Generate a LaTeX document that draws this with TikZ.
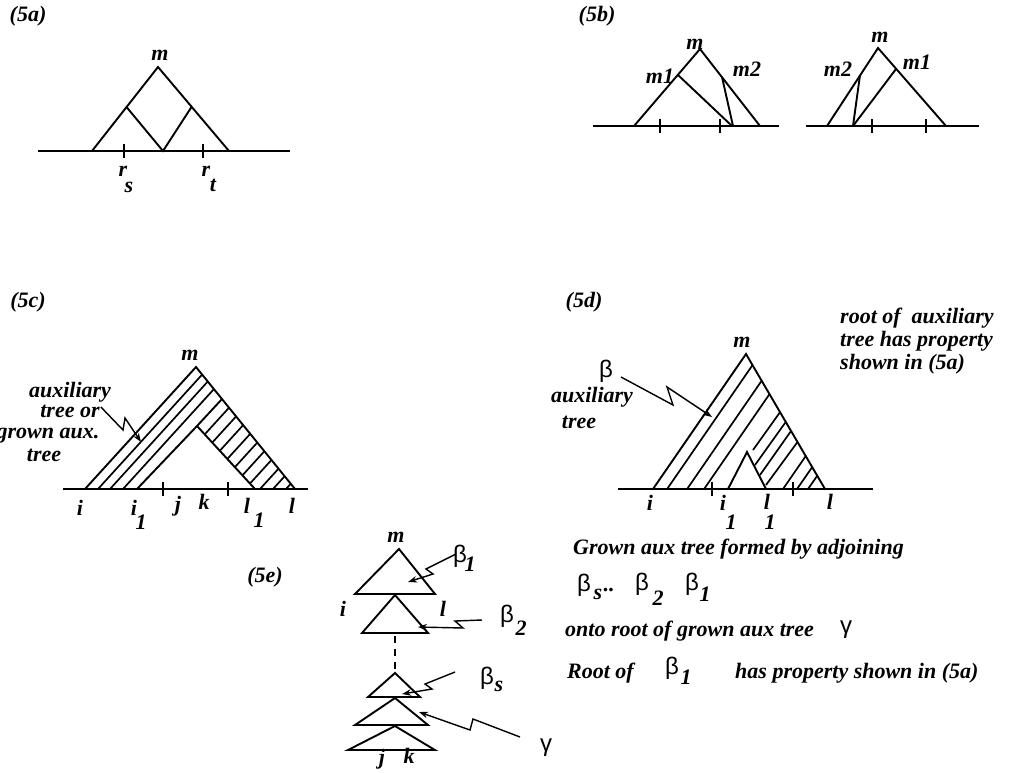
\documentclass[tikz,border=0pt]{standalone}
\usepackage{fontspec}
\setmainfont{Liberation Serif}
\newfontfamily\grk{Liberation Sans}
\usetikzlibrary{arrows.meta}
\begin{document}
\begin{tikzpicture}[x=1pt,y=-1pt,
  lab/.style={font=\fontsize{22}{24}\selectfont\bfseries\itshape, inner sep=0pt},
  gk/.style={font=\fontsize{24}{26}\selectfont\grk, inner sep=0pt},
  ln/.style={line width=1.9pt, line join=miter},
  hatch/.style={line width=1.7pt},
  tick/.style={line width=1.6pt},
  bolt/.style={line width=1.4pt, line join=miter, -{Stealth[length=9pt,width=6.5pt]}},
  dsh/.style={line width=1.7pt, dash pattern=on 7pt off 6pt},
]
\useasboundingbox (0,0) rectangle (1011,772);

% ---------------- (5a)
\node[lab] (t5a) at (28,16) {(5a)};
\coordinate (aM) at (158,67);
\coordinate (aL) at (92,151);
\coordinate (aR) at (229,151);
\coordinate (aP) at (126.5,107);
\coordinate (aQ) at (191.5,107);
\coordinate (aB) at (163,151);
\coordinate (aS) at (38,151);
\coordinate (aE) at (290,151);
\draw[ln] (aS) -- (aE);
\draw[ln] (aL) -- (aM) -- (aR);
\draw[ln] (aP) -- (aB) -- (aQ);
\draw[tick] (124,144) -- (124,158);
\draw[tick] (203,144) -- (203,158);
\node[lab] (am) at (160,55) {m};
\node[lab] (ar1) at (123,171) {r};
\node[lab] (as) at (129,187) {s};
\node[lab] (ar2) at (206,171) {r};
\node[lab] (at) at (213,185) {t};

% ---------------- (5b)
\node[lab] (t5b) at (597,16) {(5b)};
% left
\coordinate (bM) at (700,49);
\coordinate (bL) at (634,126);
\coordinate (bR) at (760,126);
\coordinate (bm1) at (678,75);
\coordinate (bm2) at (722,77);
\coordinate (bF1) at (732,126);
\coordinate (bF2) at (733,126);
\draw[ln] (593,126) -- (779,126);
\draw[ln] (bL) -- (bM) -- (bR);
\draw[ln] (bm1) -- (bF1);
\draw[ln] (bm2) -- (bF2);
\draw[tick] (660,119) -- (660,133);
\draw[tick] (720,119) -- (720,133);
\node[lab] (bml) at (695,44) {m};
\node[lab] (bm1l) at (660,76) {m1};
\node[lab] (bm2l) at (747,69) {m2};
% right
\coordinate (cM) at (878,48);
\coordinate (cL) at (827,126);
\coordinate (cR) at (946,126);
\coordinate (cm2) at (860,75);
\coordinate (cm1) at (896,69);
\coordinate (cF) at (853,126);
\draw[ln] (806,126) -- (979,126);
\draw[ln] (cL) -- (cM) -- (cR);
\draw[ln] (cm2) -- (cF);
\draw[ln] (cm1) -- (cF);
\draw[tick] (872,119) -- (872,133);
\draw[tick] (926,119) -- (926,133);
\node[lab] (cml) at (880,37) {m};
\node[lab] (cm2l) at (838,69) {m2};
\node[lab] (cm1l) at (917,62) {m1};

% ---------------- (5c)
\node[lab] (t5c) at (28,302) {(5c)};
\coordinate (dA) at (196,367);
\coordinate (dL) at (85,489);
\coordinate (dR) at (295,489);
\coordinate (dP) at (197,426);
\coordinate (dLb) at (137,489);
\coordinate (dRb) at (255,489);
\coordinate (dQ) at (222,399);
\draw[ln] (63,489) -- (308,489);
\draw[ln] (dL) -- (dA) -- (dR);
\draw[ln] (dLb) -- (dP) -- (dQ);
\draw[ln] (dP) -- (dRb);
\draw[hatch] (98,489) -- (202.1,374.6);
\draw[hatch] (110,489) -- (207.7,381.6);
\draw[hatch] (123,489) -- (213.8,389.2);
\begin{scope}
  \clip (dP) -- (dQ) -- (dR) -- (dRb) -- cycle;
  \foreach \c in {600,615,630,645,660,675,690,705,718,731}
    \draw[hatch] ({\c-0.91*500},500) -- ({\c-0.91*380},380);
\end{scope}
\draw[tick] (163,482) -- (163,496);
\draw[tick] (228,482) -- (228,496);
\node[lab] (dml) at (190,355) {m};
\node[lab, anchor=base] (daux) at (70,397) {auxiliary};
\node[lab, anchor=base] (dtor) at (70,417) {tree or};
\node[lab, anchor=base] (dgrown) at (48,438) {grown aux.};
\node[lab, anchor=base] (dtree) at (44,461) {tree};
\coordinate (dz1) at (123,430);
\coordinate (dz2) at (125,418);
\coordinate (dz3) at (141,442);
\draw[bolt] (dtor.east) ++(1,-4) -- (dz1) -- (dz2) -- (dz3);
\node[lab] (di) at (80,508) {i};
\node[lab] (di1) at (134,508) {i};
\node[lab] (di1s) at (141,522) {1};
\node[lab] (dj) at (178,506) {j};
\node[lab] (dk) at (204,502) {k};
\node[lab] (dl1) at (247,506) {l};
\node[lab] (dl1s) at (259,520) {1};
\node[lab] (dl) at (292,506) {l};

% ---------------- (5d)
\node[lab] (t5d) at (584,302) {(5d)};
\coordinate (eA) at (746,354);
\coordinate (eL) at (653,489);
\coordinate (eR) at (825,489);
\coordinate (eIA) at (747,452);
\coordinate (eIL) at (728,489);
\coordinate (eIR) at (766,489);
\draw[ln] (618,489) -- (873,489);
\draw[ln] (eL) -- (eA) -- (eR);
\draw[ln] (eIL) -- (eIA) -- (eIR);
\draw[hatch] (667.1,489) -- (752.5,365.1);
\draw[hatch] (687.1,489) -- (761.6,380.8);
\draw[hatch] (704.1,489) -- (769.5,394.1);
\draw[hatch] (753,450) -- (780,412.2);
\draw[hatch] (755,465) -- (786,421.6);
\draw[hatch] (760,475) -- (791,431);
\draw[hatch] (766,485) -- (797.5,442);
\draw[hatch] (783,489) -- (805.7,456.1);
\draw[hatch] (797,489) -- (812.2,467.1);
\draw[hatch] (808,489) -- (817.2,475.8);
\draw[tick] (712,482) -- (712,496);
\draw[tick] (793,482) -- (793,496);
\node[lab] (eml) at (742,342) {m};
\node[gk] (ebeta) at (606,371) {β};
\node[lab, anchor=base] (eaux) at (592,402) {auxiliary};
\node[lab, anchor=base] (etree) at (579,428) {tree};
\coordinate (ez0) at (621,377);
\coordinate (ez1) at (673,405);
\coordinate (ez2) at (667,387);
\coordinate (ez3) at (712,417);
\draw[bolt] (ez0) -- (ez1) -- (ez2) -- (ez3);
\node[lab] (ei) at (650,503) {i};
\node[lab] (ei1) at (723,503) {i};
\node[lab] (ei1s) at (731,522) {1};
\node[lab] (el1) at (767,502) {l};
\node[lab] (el1s) at (770,522) {1};
\node[lab] (el) at (830,502) {l};
\node[lab, anchor=base west] (er1) at (840,323) {root of\ \ auxiliary};
\node[lab, anchor=base west] (er2) at (840,346) {tree has property};
\node[lab, anchor=base west] (er3) at (840,369) {shown in (5a)};

% ---------------- (5e)
\node[lab] (t5e) at (265,577) {(5e)};
\draw[ln] (355,594) -- (399,549) -- (435,594) -- cycle;
\draw[ln] (362,633) -- (395,595) -- (428,633) -- cycle;
\draw[dsh] (395,636) -- (395,672);
\draw[ln] (368,697) -- (395,673) -- (420,697) -- cycle;
\draw[ln] (355,725) -- (395,698) -- (428,725) -- cycle;
\draw[ln] (348,750) -- (395,726) -- (435,750) -- cycle;
\node[lab] (fm) at (396,537) {m};
\node[lab] (fi) at (343,609) {i};
\node[lab] (fl) at (443,609) {l};
\node[lab] (fj) at (382,759) {j};
\node[lab] (fk) at (409,756) {k};
\node[gk] (fb1) at (460,556) {β};
\node[lab] (fb1s) at (470,564) {1};
\node[gk] (fb2) at (507,616) {β};
\node[lab] (fb2s) at (521,628) {2};
\node[gk] (fbs) at (487,678) {β};
\node[lab] (fbss) at (499,686) {s};
\node[gk] (fg) at (546,748) {γ};
\draw[bolt] (456,554) -- (426,569) -- (433,574) -- (408,582);
\draw[bolt] (482,620) -- (455,621) -- (463,628) -- (418,627);
\draw[bolt] (455,672) -- (425,684) -- (432,689) -- (402,694);
\draw[bolt] (520,737) -- (473,719) -- (470,730) -- (419,712);

\node[lab, anchor=base west] (g1) at (573,554) {Grown aux tree formed by adjoining};
\node[gk] (g2a) at (584,585) {β};
\node[lab] (g2as) at (598,594) {s};
\node[lab] (g2dots) at (609,590) {..};
\node[gk] (g2b) at (642,584) {β};
\node[lab] (g2bs) at (658,598) {2};
\node[gk] (g2c) at (692,584) {β};
\node[lab] (g2cs) at (705,594) {1};
\node[lab, anchor=base west] (g3) at (565,636) {onto root of grown aux tree};
\node[gk] (g3g) at (846,630) {γ};
\node[lab, anchor=base west] (g4) at (567,678) {Root of};
\node[gk] (g4b) at (672,668) {β};
\node[lab] (g4bs) at (686,677) {1};
\node[lab, anchor=base west] (g4c) at (735,678) {has property shown in (5a)};
\end{tikzpicture}
\end{document}
